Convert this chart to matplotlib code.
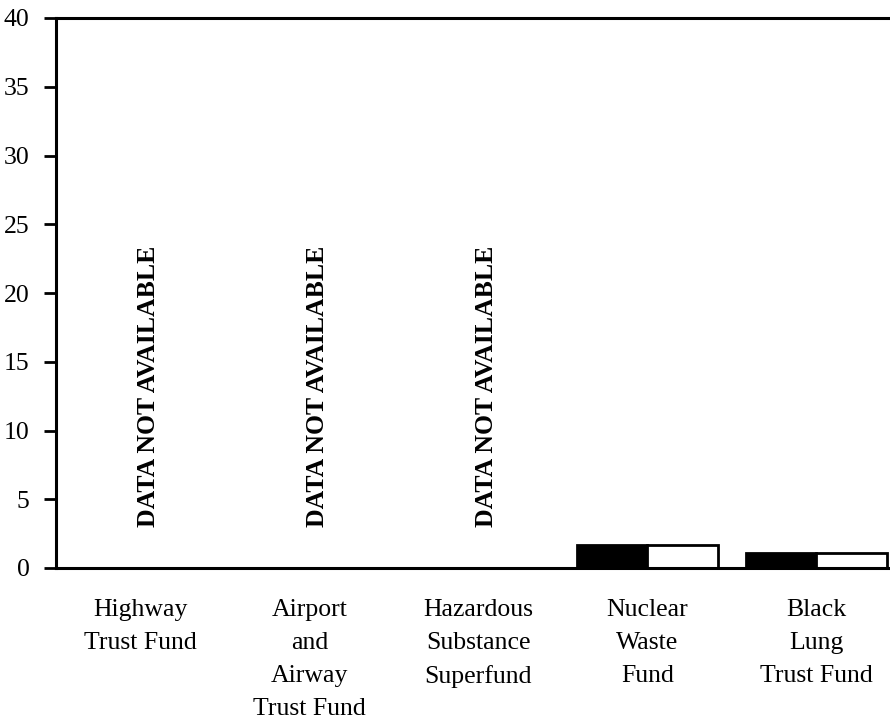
import matplotlib.pyplot as plt
import numpy as np

categories = ["Highway\nTrust Fund", "Airport\nand\nAirway\nTrust Fund",
              "Hazardous\nSubstance\nSuperfund", "Nuclear\nWaste\nFund",
              "Black\nLung\nTrust Fund"]
series_a = [np.nan, np.nan, np.nan, 1.7, 1.1]
series_b = [np.nan, np.nan, np.nan, 1.7, 1.1]
not_available = [True, True, True, False, False]
yticks = [0, 5, 10, 15, 20, 25, 30, 35, 40]

plt.rcParams['font.family'] = ['Liberation Serif', 'DejaVu Serif']

fig = plt.figure(figsize=(8.9, 7.23), dpi=100)
ax = fig.add_axes([56/890, 1-568/723, 1-56/890, (568-18)/723])

x = np.arange(len(categories))
w = 0.4175
ax.bar(x - w/2, series_a, w, color='black', edgecolor='black', linewidth=2)
ax.bar(x + w/2, series_b, w, color='white', edgecolor='black', linewidth=2)

for i, na in enumerate(not_available):
    if na:
        ax.text(i + 0.05, 3.0, "DATA NOT AVAILABLE", rotation=90, ha='center',
                va='bottom', fontsize=18.5, fontweight='bold')

ax.set_xlim(-0.5, 4.435)
ax.set_ylim(0, 40)
ax.set_yticks(yticks)
ax.set_xticks(x)
ax.set_xticklabels(categories, fontsize=18.5, linespacing=1.65, va='top')
ax.tick_params(axis='x', length=0, pad=22)
ax.tick_params(axis='y', length=9, width=2, labelsize=18.5, pad=10)
ax.spines['right'].set_visible(False)
for s in ['top', 'left', 'bottom']:
    ax.spines[s].set_linewidth(2.2)

fig.savefig('out.png', dpi=100)
